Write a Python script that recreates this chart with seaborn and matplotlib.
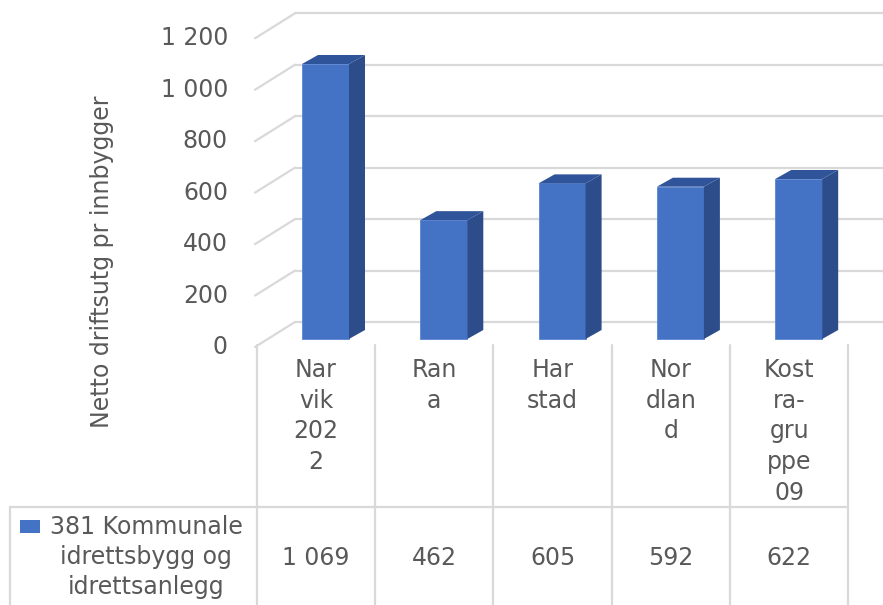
import numpy as np
import pandas as pd
import matplotlib.pyplot as plt
import seaborn as sns
from matplotlib.patches import Polygon
from matplotlib.transforms import Affine2D

# data
categories = ["Narvik 2022", "Rana", "Harstad", "Nordland", "Kostra-gruppe 09"]
wrapped = ["Nar\nvik\n202\n2", "Ran\na", "Har\nstad", "Nor\ndlan\nd", "Kost\nra-\ngru\nppe\n09"]
values = [1069, 462, 605, 592, 622]
value_labels = ["1 069", "462", "605", "592", "622"]
yticks = [0, 200, 400, 600, 800, 1000, 1200]
ytick_labels = ["0", "200", "400", "600", "800", "1 000", "1 200"]
series_name = ["381 Kommunale", "idrettsbygg og", "idrettsanlegg"]
ylabel = "Netto driftsutg pr innbygger"

FRONT = "#4472c4"
SIDE = "#2c4c8a"
TOP = "#30549a"
GRID = "#d9d9d9"
TXT = "#595959"

# layout in pixels (from top-left)
W, H = 883, 605
X0, STEP = 325.5, 118.3      # centre of first bar front, spacing
BASE, SCALE = 339, 0.25725   # floor of bars, px per unit
DX, DY = 16, 9               # bar depth
BACK, FRONTOFF = 17, 8       # back wall / front edge offsets from bar floor
FS = 17

sns.set_style("white")
plt.rcParams["font.family"] = ["DejaVu Sans"]

fig = plt.figure(figsize=(W / 100, H / 100), dpi=100)
ax = fig.add_axes([0, 0, 1, 1])
pix = Affine2D().scale(1 / W, -1 / H).translate(0, 1) + fig.transFigure

df = pd.DataFrame({"kategori": categories, "verdi": values})
bw = 47 / STEP
sns.barplot(data=df, x="kategori", y="verdi", color=FRONT, saturation=1,
            width=bw, edgecolor="#5a85d2", linewidth=0.6, ax=ax, zorder=3)
ax.set_xlim(-X0 / STEP, (W - X0) / STEP)
ax.set_ylim(-(H - BASE) / SCALE, BASE / SCALE)
ax.axis("off")

# 3d side and top faces
ddx, ddy = DX / STEP, DY / SCALE
for i, v in enumerate(values):
    r, l = i + bw / 2, i - bw / 2
    ax.add_patch(Polygon([(r, 0), (r + ddx, ddy), (r + ddx, v + ddy), (r, v)],
                         closed=True, facecolor=SIDE, edgecolor="none", zorder=3))
    ax.add_patch(Polygon([(l, v), (l + ddx, v + ddy), (r + ddx, v + ddy), (r, v)],
                         closed=True, facecolor=TOP, edgecolor="none", zorder=3))

# walls: gridlines on back wall + diagonals on the left side
wall_x0, wall_x1 = 255, 295
for v, lab in zip(yticks, ytick_labels):
    yb = BASE - BACK - v * SCALE
    yf = BASE + FRONTOFF - v * SCALE
    ax.plot([wall_x1, W], [yb, yb], color=GRID, lw=1.6, transform=pix, zorder=1)
    ax.plot([wall_x0, wall_x1], [yf, yb], color=GRID, lw=1.6, transform=pix, zorder=1)
    ax.text(228, yf, lab, transform=pix, ha="right", va="center", fontsize=FS, color=TXT)

ax.text(102, 262, ylabel, transform=pix, rotation=90, ha="center", va="center",
        fontsize=FS, color=TXT)

# data table
edges = [X0 - 9.5 + (i - 0.5) * STEP for i in range(len(categories) + 1)]
for e in edges:
    ax.plot([e, e], [345, H], color=GRID, lw=1.6, transform=pix, zorder=1)
ax.plot([10, edges[-1]], [507, 507], color=GRID, lw=1.6, transform=pix, zorder=1)
ax.plot([10, 10], [507, H], color=GRID, lw=1.6, transform=pix, zorder=1)

for i, lab in enumerate(wrapped):
    cx = (edges[i] + edges[i + 1]) / 2
    for k, part in enumerate(lab.split("\n")):
        ax.text(cx, 370 + k * 30.7, part, transform=pix, ha="center", va="center",
                fontsize=FS, color=TXT)
    ax.text(cx, 558, value_labels[i], transform=pix, ha="center", va="center",
            fontsize=FS, color=TXT)

for k, part in enumerate(series_name):
    ax.text(146, 527 + k * 30, part, transform=pix, ha="center", va="center",
            fontsize=FS, color=TXT)
ax.add_patch(plt.Rectangle((20, 520), 20, 13, transform=pix, facecolor=FRONT,
                           edgecolor="none"))

fig.savefig("out.png", dpi=100)
